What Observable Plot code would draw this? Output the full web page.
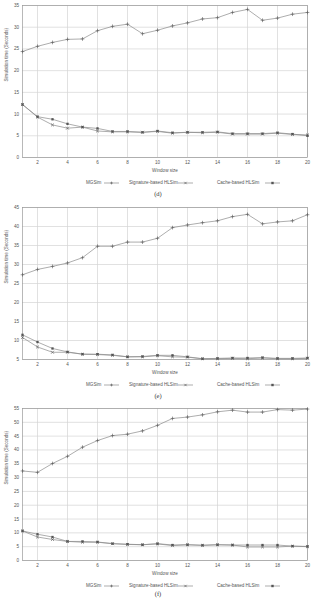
<!DOCTYPE html>
<html>
<head>
<meta charset="utf-8">
<script src="https://cdn.jsdelivr.net/npm/d3@7"></script>
<script src="https://cdn.jsdelivr.net/npm/@observablehq/plot@0.6"></script>
<style>
  html, body { margin: 0; padding: 0; background: #fff; }
  #root { position: relative; width: 316px; height: 598px; overflow: hidden; font-family: "Liberation Sans", Arial, sans-serif; color: #555; }
  .panel { position: absolute; left: 0; }
  .leg { position: absolute; font-size: 4.6px; line-height: 6px; white-space: nowrap; }
  .cap { position: absolute; left: 0; width: 316px; text-align: center; font-family: "Liberation Serif", "Times New Roman", serif; font-size: 6.5px; line-height: 7px; color: #333; }
  .sample { position: absolute; }
</style>
</head>
<body>
<div id="root"></div>
<script>
// ---- Data ----
const windowSizes = [1, 2, 3, 4, 5, 6, 7, 8, 9, 10, 11, 12, 13, 14, 15, 16, 17, 18, 19, 20];
const xTickValues = [2, 4, 6, 8, 10, 12, 14, 16, 18, 20];
const seriesNames = ["MGSim", "Signature-based HLSim", "Cache-based HLSim"];
const captions = ["(d)", "(e)", "(f)"];

// Panel (d)
const mgsimD = [24.4, 25.6, 26.5, 27.2, 27.3, 29.2, 30.2, 30.7, 28.5, 29.3, 30.3, 31.0, 31.9, 32.2, 33.4, 34.1, 31.6, 32.1, 33.0, 33.4];
const signatureD = [12.2, 9.3, 7.5, 6.75, 7.0, 6.1, 5.9, 5.9, 5.8, 6.0, 5.6, 5.8, 5.7, 5.8, 5.4, 5.4, 5.4, 5.6, 5.3, 5.2];
const cacheD = [12.2, 9.4, 8.8, 7.75, 7.0, 6.7, 6.0, 6.0, 5.8, 6.1, 5.7, 5.8, 5.8, 5.9, 5.5, 5.5, 5.5, 5.7, 5.4, 5.0];
const yTicksD = [0, 5, 10, 15, 20, 25, 30, 35];

// Panel (e)
const mgsimE = [27.3, 28.7, 29.5, 30.4, 31.8, 34.8, 34.8, 35.9, 35.9, 36.9, 39.7, 40.4, 41.0, 41.5, 42.6, 43.2, 40.7, 41.2, 41.5, 43.1];
const signatureE = [10.8, 8.3, 6.9, 6.9, 6.4, 6.3, 6.1, 5.7, 5.7, 6.0, 5.7, 5.6, 5.2, 5.2, 5.3, 5.2, 5.4, 5.2, 5.2, 5.3];
const cacheE = [11.5, 9.6, 7.9, 7.0, 6.4, 6.4, 6.2, 5.7, 5.8, 6.1, 6.1, 5.7, 5.2, 5.3, 5.4, 5.4, 5.5, 5.3, 5.3, 5.4];
const yTicksE = [5, 10, 15, 20, 25, 30, 35, 40, 45];

// Panel (f)
const mgsimF = [32.4, 31.9, 35.1, 37.7, 41.0, 43.4, 45.2, 45.7, 46.9, 48.9, 51.4, 51.9, 52.7, 53.8, 54.4, 53.7, 53.7, 54.6, 54.4, 54.8];
const signatureF = [10.7, 8.5, 7.6, 6.9, 6.6, 6.6, 6.1, 5.8, 5.7, 6.0, 5.4, 5.7, 5.5, 5.7, 5.6, 4.9, 4.9, 4.9, 5.2, 5.0];
const cacheF = [10.7, 9.5, 8.5, 6.9, 6.9, 6.7, 6.1, 5.9, 5.7, 6.1, 5.6, 5.7, 5.5, 5.7, 5.6, 5.6, 5.6, 5.6, 5.2, 5.1];
const yTicksF = [0, 5, 10, 15, 20, 25, 30, 35, 40, 45, 50, 55];

// ---- Drawing ----
const LINE = "#8a8a8a";
const MARK = "#555";

function rowsOf(values) {
  return windowSizes.map((w, i) => ({w, v: values[i]}));
}

function makePanel(mg, sig, cache, yTicks) {
  const yDomain = [yTicks[0], yTicks[yTicks.length - 1]];
  const mgRows = rowsOf(mg), sigRows = rowsOf(sig), cacheRows = rowsOf(cache);
  return Plot.plot({
    width: 316,
    height: 176,
    marginLeft: 22,
    marginRight: 9,
    marginTop: 5,
    marginBottom: 19,
    style: {fontFamily: "Liberation Sans, Arial, sans-serif", fontSize: "4.6px", color: "#555", background: "transparent", overflow: "visible"},
    x: {domain: [1, 20]},
    y: {domain: yDomain},
    marks: [
      Plot.gridX(xTickValues, {stroke: "#d4d4d4", strokeOpacity: 1, strokeWidth: 0.7}),
      Plot.gridY(yTicks, {stroke: "#d4d4d4", strokeOpacity: 1, strokeWidth: 0.7}),
      Plot.frame({stroke: "#9a9a9a", strokeWidth: 0.7}),
      Plot.axisX({ticks: xTickValues, tickSize: 0, tickPadding: 3.5, label: null, fill: "#555"}),
      Plot.axisY({ticks: yTicks, tickSize: 0, tickPadding: 3.5, label: null, fill: "#555"}),
      Plot.text(["Window size"], {frameAnchor: "bottom", dy: 14.5, fill: "#555", fontSize: 4.6}),
      Plot.text(["Simulation time (Seconds)"], {frameAnchor: "left", dx: -16, rotate: -90, fill: "#555", fontSize: 4.6}),
      Plot.line(mgRows, {x: "w", y: "v", stroke: LINE, strokeWidth: 0.7}),
      Plot.line(sigRows, {x: "w", y: "v", stroke: LINE, strokeWidth: 0.7}),
      Plot.line(cacheRows, {x: "w", y: "v", stroke: LINE, strokeWidth: 0.7}),
      Plot.dot(mgRows, {x: "w", y: "v", symbol: "plus", r: 1.3, stroke: MARK, strokeWidth: 0.6}),
      Plot.dot(sigRows, {x: "w", y: "v", symbol: "times", r: 1.5, stroke: MARK, strokeWidth: 0.6}),
      Plot.dot(cacheRows, {x: "w", y: "v", symbol: "square", r: 1.3, fill: MARK, stroke: "none"})
    ]
  });
}

function sampleSvg(symbol, left, top) {
  const ns = "http://www.w3.org/2000/svg";
  const w = 15, h = 6;
  const svg = document.createElementNS(ns, "svg");
  svg.setAttribute("width", w); svg.setAttribute("height", h);
  svg.setAttribute("class", "sample");
  svg.style.left = left + "px"; svg.style.top = top + "px";
  const line = document.createElementNS(ns, "line");
  line.setAttribute("x1", 0); line.setAttribute("x2", w);
  line.setAttribute("y1", h / 2); line.setAttribute("y2", h / 2);
  line.setAttribute("stroke", LINE); line.setAttribute("stroke-width", 0.7);
  svg.appendChild(line);
  const cx = w / 2, cy = h / 2;
  if (symbol === "square") {
    const r = document.createElementNS(ns, "rect");
    r.setAttribute("x", cx - 1.2); r.setAttribute("y", cy - 1.2);
    r.setAttribute("width", 2.4); r.setAttribute("height", 2.4);
    r.setAttribute("fill", MARK);
    svg.appendChild(r);
  } else {
    const p = document.createElementNS(ns, "path");
    const d = symbol === "plus"
      ? `M${cx - 1.4},${cy}H${cx + 1.4}M${cx},${cy - 1.4}V${cy + 1.4}`
      : `M${cx - 1.2},${cy - 1.2}L${cx + 1.2},${cy + 1.2}M${cx - 1.2},${cy + 1.2}L${cx + 1.2},${cy - 1.2}`;
    p.setAttribute("d", d); p.setAttribute("stroke", MARK); p.setAttribute("stroke-width", 0.6); p.setAttribute("fill", "none");
    svg.appendChild(p);
  }
  return svg;
}

const root = document.getElementById("root");
const panels = [
  [mgsimD, signatureD, cacheD, yTicksD],
  [mgsimE, signatureE, cacheE, yTicksE],
  [mgsimF, signatureF, cacheF, yTicksF]
];
const panelTops = [0, 202, 403];
const captionOffsets = [190, 190, 187];
const legendText = [86, 129, 217];
const legendSample = [104, 178, 265];
const symbols = ["plus", "times", "square"];

panels.forEach((p, i) => {
  const top = panelTops[i];
  const div = document.createElement("div");
  div.className = "panel";
  div.style.top = top + "px";
  div.appendChild(makePanel(...p));
  root.appendChild(div);

  seriesNames.forEach((name, k) => {
    const span = document.createElement("div");
    span.className = "leg";
    span.textContent = name;
    span.style.left = legendText[k] + "px";
    span.style.top = (top + 180) + "px";
    root.appendChild(span);
    root.appendChild(sampleSvg(symbols[k], legendSample[k], top + 180));
  });

  const cap = document.createElement("div");
  cap.className = "cap";
  cap.textContent = captions[i];
  cap.style.top = (top + captionOffsets[i]) + "px";
  root.appendChild(cap);
});
</script>
</body>
</html>
